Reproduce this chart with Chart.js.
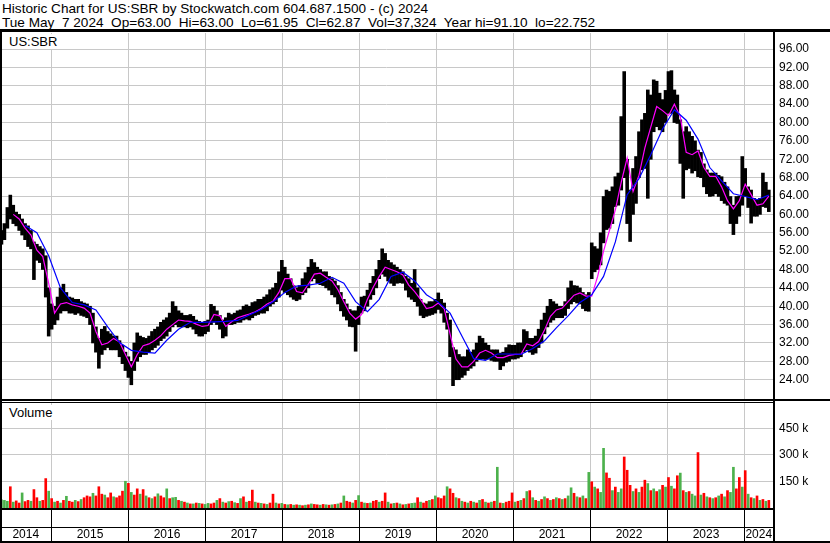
<!DOCTYPE html>
<html>
<head>
<meta charset="utf-8">
<script src="https://cdn.jsdelivr.net/npm/chart.js@4.4.1/dist/chart.umd.min.js"></script>
<style>
  body { margin: 0; background: #fff; }
  #page { position: relative; width: 830px; height: 543px; overflow: hidden; font-family: "Liberation Sans", Arial, sans-serif; color: #000; }
  .txt { position: absolute; white-space: pre; line-height: 15px; }
  .hdr { left: 2px; font-size: 13.6px; }
  .tag { left: 8px; font-size: 13px; background: #fff; padding: 0 2px 0 1px; }
  .rule { position: absolute; background: #000; }
  canvas { position: absolute; left: 0; }
</style>
</head>
<body>
<div id="page">
  <div class="txt hdr" style="top:1px">Historic Chart for US:SBR by Stockwatch.com 604.687.1500 - (c) 2024</div>
  <div class="txt hdr" style="top:15px">Tue May  7 2024  Op=63.00  Hi=63.00  Lo=61.95  Cl=62.87  Vol=37,324  Year hi=91.10  lo=22.752</div>
  <canvas id="priceChart" width="830" height="368" style="top:32px"></canvas>
  <canvas id="volumeChart" width="830" height="142" style="top:401px"></canvas>
  <div class="txt tag" style="top:34px">US:SBR</div>
  <div class="txt tag" style="top:405px">Volume</div>
  <div class="rule" style="left:0;top:29px;width:830px;height:3px"></div>
  <div class="rule" style="left:0;top:32px;width:2px;height:511px"></div>
  <div class="rule" style="left:773px;top:32px;width:2px;height:511px"></div>
  <div class="rule" style="left:0;top:399px;width:830px;height:2px"></div>
  <div class="rule" style="left:0;top:402px;width:775px;height:1px"></div>
  <div class="rule" style="left:0;top:508px;width:775px;height:2px"></div>
  <div class="rule" style="left:0;top:527px;width:775px;height:1px"></div>
  <div class="rule" style="left:0;top:541px;width:830px;height:2px"></div>
</div>
<script>
// two-week samples, first one early May 2014
var firstSample = 2014.35;
var sampleStep = 14 / 365.25;
var xMin = 2014.331, xMax = 2024.370;

// high / low of each two-week column
var priceHigh = [
  56.5, 58, 61.5, 64.2, 62, 60.5, 60, 59, 58, 57.5,
  56.5, 54, 53.5, 53, 52.5, 51, 44, 40.5, 40, 42,
  44, 44.8, 43, 42, 41.8, 41.5, 41.5, 41, 40.7, 40.5,
  40, 38.5, 35.5, 33, 35, 35.6, 34.5, 34, 33.5, 33.5,
  32.5, 31.5, 30, 29, 28, 32, 34.2, 33.5, 33.2, 33,
  33.5, 34.5, 35, 35.5, 36.5, 37, 37.5, 38.5, 41, 40,
  39, 38.5, 38, 38, 38.2, 37.8, 37, 36.7, 36.5, 36.7,
  37, 40.4, 40, 39, 38, 37, 37.5, 38.5, 38.2, 38.5,
  39, 39.2, 40, 40.3, 40, 40.8, 41, 41.5, 41.5, 42,
  42.5, 43.6, 44, 45, 47.5, 50, 48.5, 47, 46, 44.5,
  44, 44.5, 46, 47.3, 48.5, 50.2, 49.5, 48.5, 48, 47.5,
  47.5, 46.5, 46, 45.5, 44.5, 43, 41.5, 40.5, 39.3, 39,
  39, 40, 42, 42.2, 43.5, 45, 46.5, 48, 50, 52.5,
  51.5, 50, 49.5, 49, 48.5, 48, 47.5, 46.5, 46, 45,
  48, 44, 41.5, 40.7, 40.5, 41, 41, 41.5, 42.9, 41.5,
  40.7, 38.5, 37, 31, 30.5, 29.5, 29, 29, 30.5, 30,
  30.5, 32, 33.5, 33, 32, 31.5, 30.5, 30.5, 30.5, 29.8,
  30, 31, 31.6, 31.5, 31.5, 32, 32, 34.9, 34.5, 33,
  33, 33.5, 35, 37, 38.5, 40, 41.5, 41, 40.5, 40,
  40, 41, 44, 45.5, 44.5, 44.4, 44, 43, 42.5, 43,
  53.8, 53, 52.5, 56, 63.9, 65.3, 65, 66, 68.2, 69,
  81.3, 91.1, 72, 65.3, 70, 72.6, 78, 80.6, 82, 87.1,
  86, 89.3, 89, 86.4, 85, 87, 91.1, 91.3, 87.1, 86,
  80.6, 78, 79.1, 78, 77, 76, 74, 73.5, 71, 69.7,
  69, 69, 69, 68.5, 68.2, 67, 66, 63.9, 62, 63.9,
  64, 72.6, 70, 66, 65.3, 63.5, 63.2, 63.5, 69, 67, 65.3
];
var priceLow = [
  53.5, 54.5, 57, 59, 58, 57.5, 56.5, 55.5, 54.5, 53,
  52.5, 45.8, 50, 49.5, 48, 42, 33.5, 35, 36, 37,
  38.5, 39, 39, 38.5, 38.5, 38.2, 38.5, 38, 37.8, 37.5,
  36, 32, 30, 26.5, 29.5, 30.5, 31, 30.5, 30.5, 30.5,
  29, 27.5, 26, 24.5, 22.9, 26, 28, 29, 29.5, 29.5,
  30, 30.5, 31, 31.5, 32.5, 33, 33.5, 34.5, 35.5, 36,
  35.5, 35.5, 35.5, 35.3, 35.5, 35, 34, 33.5, 33.5, 34,
  34.5, 36, 36.5, 36, 35, 33.1, 33.5, 36, 36, 36.2,
  36.5, 36.5, 37, 37.2, 37, 37.5, 38, 38.2, 38.5, 38.5,
  39, 40, 40.5, 41, 42, 43.5, 43, 42.5, 42, 41.5,
  41.2, 41.5, 42.5, 43, 44, 45.5, 46, 45, 44.7, 44.5,
  44, 43.5, 42.5, 42, 40.5, 39, 37.8, 37, 35.6, 35.5,
  30.2, 36, 38.5, 39, 40, 41.5, 42.5, 44, 46, 47,
  46.5, 45.5, 45, 44.5, 45, 45.1, 45, 43.5, 42, 41.5,
  41, 40, 38, 37.5, 37.8, 38, 38.2, 38.5, 39.3, 38.5,
  36.5, 35, 29, 22.7, 24, 24, 24.5, 25, 26, 26.5,
  27, 28, 28.4, 28.5, 28.4, 28.5, 28.2, 28, 28, 26.2,
  27, 27.8, 28, 28.5, 28.5, 28.7, 29, 30, 30.5, 30,
  29.5, 29.8, 31, 32, 34, 35.5, 36.5, 37, 37.5, 37.5,
  37.5, 38, 39.5, 40.5, 41, 40.7, 40.5, 39.5, 39, 38.9,
  46, 47.5, 48, 49, 53.8, 56.7, 57, 58, 61.7, 62,
  65.3, 68, 58, 54.1, 60, 62.4, 68, 69.7, 70, 63.5,
  72, 78, 79.1, 78.4, 78, 80, 82, 82, 80, 79.8,
  71.1, 63.5, 69.7, 70, 69, 69.5, 68.2, 68, 66, 64.5,
  63.9, 64, 64.5, 63.9, 63, 62.4, 62, 58, 55.6, 58,
  59.6, 62, 63.9, 61.5, 58.1, 59.6, 59.6, 60, 61.7, 61.5, 60.6
];
// magenta average, one value every 2nd sample
var maShort = [
  null, null, 60, 59, 57, 55.5, 52.2, 50.8, 45, 38.5,
  40.5, 40.8, 40.3, 40, 39.6, 38.5, 34.5, 31.6, 32, 33,
  32.2, 29.5, 26.8, 29.5, 31.4, 31.8, 32.6, 33.6, 35, 36,
  37, 36.8, 36.7, 36.1, 35.6, 35.8, 38.2, 37.9, 35.6, 36.6,
  37.5, 37.9, 38.3, 38.8, 39.5, 40.5, 41.1, 43, 46, 46,
  43.2, 42.9, 44.8, 47, 47.2, 46.3, 45.5, 43.6, 41, 38.5,
  37.2, 38.2, 41.5, 44.2, 46.5, 48.5, 48, 47.5, 46.8, 44.6,
  43.2, 41.5, 39.5, 39.8, 40.7, 39.5, 34, 28.5, 26.8, 26.8,
  28, 29.8, 30.4, 29.8, 28.8, 28.8, 29.3, 29.5, 29.5, 31.8,
  31.4, 32.3, 34.8, 37.8, 39.2, 39.6, 41, 42.4, 42.9, 42.2,
  42.2, 46.5, 52, 56.5, 61, 67, 72.3, 65, 68.5, 74.5,
  79, 83.5, 82.6, 81.5, 84, 81.3, 73.5, 73, 73.8, 70.2,
  68.3, 68.3, 66, 63, 61.2, 63, 66.6, 64.3, 62, 62.3, 64
];
// blue average, one value every 4th sample
var maLong = [
  null, null, 57.6, 56, 51, 44, 40.8, 40.3, 39.2, 35.5,
  32.1, 30.4, 30, 29.8, 32.6, 35, 36.5, 36.5, 36.6, 36.7,
  36.9, 38.1, 39.3, 41, 43, 44.4, 44.6, 45, 46.3, 45,
  41, 38.8, 41.5, 46.5, 47.4, 45.5, 42.5, 40.9, 38.5, 33.5,
  28.6, 28.2, 29.6, 29.6, 29.5, 30.8, 32.5, 35.3, 37.9, 40.8,
  42.5, 46.5, 54, 64.3, 67.8, 73, 78.6, 82.8, 80.5, 76.4,
  70.2, 67.3, 64.5, 63.9, 63.2, 64.2
];
// volume in thousands, tallest bar of each column
var volumeK = [
  48, 45, 40, 122, 35, 42, 30, 87, 38, 45,
  40, 106, 60, 40, 45, 168, 97, 55, 35, 40,
  30, 45, 68, 40, 35, 45, 38, 50, 60, 70,
  65, 85, 70, 122, 80, 75, 60, 87, 65, 60,
  70, 97, 153, 141, 90, 75, 110, 80, 106, 70,
  60, 55, 65, 82, 70, 60, 110, 55, 60, 62,
  45, 40, 35, 30, 25, 25, 30, 28, 25, 22,
  28, 25, 30, 45, 55, 35, 30, 38, 40, 32,
  28, 55, 65, 35, 40, 103, 35, 30, 28, 25,
  22, 30, 80, 30, 25, 28, 22, 20, 22, 18,
  20, 18, 15, 18, 20, 25, 22, 20, 18, 22,
  20, 18, 20, 22, 25, 30, 70, 40, 35, 30,
  45, 72, 35, 30, 28, 30, 40, 45, 35, 40,
  87, 35, 25, 28, 30, 25, 20, 22, 25, 28,
  30, 60, 35, 30, 40, 45, 50, 70, 60, 55,
  70, 122, 110, 85, 60, 55, 40, 35, 30, 40,
  35, 30, 45, 50, 35, 30, 35, 40, 232, 30,
  28, 35, 40, 87, 35, 40, 45, 55, 95, 100,
  60, 45, 40, 50, 65, 55, 45, 50, 60, 55,
  50, 55, 70, 116, 85, 65, 60, 70, 55, 203,
  150, 120, 110, 90, 339, 200, 170, 100, 120, 90,
  110, 290, 215, 130, 95, 110, 90, 120, 159, 140,
  100, 110, 95, 105, 130, 120, 174, 125, 110, 184,
  199, 100, 90, 95, 80, 70, 315, 75, 85, 65,
  60, 55, 60, 70, 80, 65, 100, 90, 232, 110,
  174, 120, 213, 80, 60, 55, 70, 45, 50, 40, 45
];
// g = up day colour, r = down day colour
var volumeDir =
  'gggrgrrgrr' + 'grrgrrgrgr' + 'grgrrgrgrr' + 'rgrrrgrrgr' + 'rrgrgrrgrg' +
  'rgrgrrgrgg' + 'rgrgrgrgrg' + 'grrgrgrgrg' + 'rgrgrrgrgr' + 'grrgrgrgrg' +
  'rgrgrgrrgr' + 'grgrgrgrrg' + 'rgrgrgrrgr' + 'rgrgrgrgrg' + 'grgrrgrgrr' +
  'rgrrgrgrgr' + 'grgrgrgrgr' + 'grrrgrgrgr' + 'grgrgrgrgr' + 'grggrgrgrg' +
  'rgrggrrgrg' + 'grrrgrgrrg' + 'rgrgrgrgrr' + 'grgrggrgrg' + 'rgrgrgrggr' +
  'rgrgrgrgrgr';

var priceTicks = [24, 28, 32, 36, 40, 44, 48, 52, 56, 60, 64, 68, 72, 76, 80, 84, 88, 92, 96];
var volumeTicks = [150, 300, 450];
var yearTicks = [2015, 2016, 2017, 2018, 2019, 2020, 2021, 2022, 2023, 2024];
var yearLabels = ['2014', '2015', '2016', '2017', '2018', '2019', '2020', '2021', '2022', '2023', '2024'];

function sampleTime(i) { return firstSample + i * sampleStep; }
function isBoundary(ctx) { return ctx.tick && Number.isInteger(ctx.tick.value); }
function noPad(s) { s.paddingTop = 0; s.paddingBottom = 0; s.paddingLeft = 0; s.paddingRight = 0; }

Chart.defaults.font.family = '"Liberation Sans", Arial, sans-serif';
Chart.defaults.font.size = 12;
Chart.defaults.color = '#000';
Chart.defaults.animation = false;

var barData = priceHigh.map(function (h, i) { return { x: sampleTime(i), y: [priceLow[i], h] }; });
var shortData = maShort.map(function (v, j) { return { x: sampleTime(j * 2), y: v }; });
var longData = maLong.map(function (v, k) { return { x: sampleTime(k * 4), y: v }; });

var priceChart = new Chart(document.getElementById('priceChart'), {
  type: 'bar',
  data: {
    datasets: [
      { type: 'line', data: longData, borderColor: '#0000ff', borderWidth: 1.2, pointRadius: 0, order: 0 },
      { type: 'line', data: shortData, borderColor: '#ff00ff', borderWidth: 1.2, pointRadius: 0, order: 1 },
      { data: barData, backgroundColor: '#000000', borderWidth: 0, barPercentage: 1, categoryPercentage: 1, order: 2 }
    ]
  },
  options: {
    responsive: false,
    devicePixelRatio: 1,
    layout: { padding: { top: 1, bottom: 1, left: 0, right: 0 } },
    plugins: { legend: { display: false }, tooltip: { enabled: false } },
    scales: {
      x: {
        type: 'linear', min: xMin, max: xMax, offset: false,
        afterBuildTicks: function (s) { s.ticks = yearTicks.map(function (v) { return { value: v }; }); },
        ticks: { display: false },
        grid: { color: '#c8c8c8', drawTicks: false, offset: false },
        border: { display: false },
        afterFit: function (s) { s.height = 0; noPad(s); }
      },
      y: {
        position: 'right', min: 19.8, max: 99.5,
        afterBuildTicks: function (s) { s.ticks = priceTicks.map(function (v) { return { value: v }; }); },
        ticks: { padding: 6, callback: function (v) { return v.toFixed(2); } },
        grid: { color: '#c8c8c8', drawTicks: false },
        border: { display: false },
        afterFit: function (s) { s.width = 57; noPad(s); }
      }
    }
  }
});

var volData = volumeK.map(function (v, i) { return { x: sampleTime(i), y: v * 1000 }; });
var volColors = volumeK.map(function (v, i) { return volumeDir[i] === 'g' ? '#4cb14c' : '#ff0000'; });
var labelAt = yearLabels.map(function (y) { return (Math.max(+y, xMin) + Math.min(+y + 1, xMax)) / 2; });

var volumeChart = new Chart(document.getElementById('volumeChart'), {
  type: 'bar',
  data: {
    datasets: [
      { data: volData, backgroundColor: volColors, borderWidth: 0, barPercentage: 0.9, categoryPercentage: 1 }
    ]
  },
  options: {
    responsive: false,
    devicePixelRatio: 1,
    layout: { padding: { top: 2, bottom: 0, left: 0, right: 0 } },
    plugins: { legend: { display: false }, tooltip: { enabled: false } },
    scales: {
      x: {
        type: 'linear', min: xMin, max: xMax, offset: false,
        afterBuildTicks: function (s) {
          s.ticks = yearTicks.concat(labelAt).sort(function (a, b) { return a - b; })
            .map(function (v) { return { value: v }; });
        },
        ticks: {
          autoSkip: false, maxRotation: 0, minRotation: 0, padding: -14,
          callback: function (v) { return Number.isInteger(v) ? '' : yearLabels[labelAt.indexOf(v)]; }
        },
        grid: {
          offset: false, tickLength: 33,
          color: function (ctx) { return isBoundary(ctx) ? '#c8c8c8' : 'rgba(0,0,0,0)'; },
          tickColor: function (ctx) { return isBoundary(ctx) ? '#000000' : 'rgba(0,0,0,0)'; }
        },
        border: { display: false },
        afterFit: function (s) { s.height = 35; noPad(s); }
      },
      y: {
        position: 'right', min: 0, max: 593000,
        afterBuildTicks: function (s) { s.ticks = volumeTicks.map(function (v) { return { value: v * 1000 }; }); },
        ticks: { padding: 6, callback: function (v) { return (v / 1000) + ' k'; } },
        grid: { color: '#c8c8c8', drawTicks: false },
        border: { display: false },
        afterFit: function (s) { s.width = 57; noPad(s); }
      }
    }
  }
});
</script>
</body>
</html>
